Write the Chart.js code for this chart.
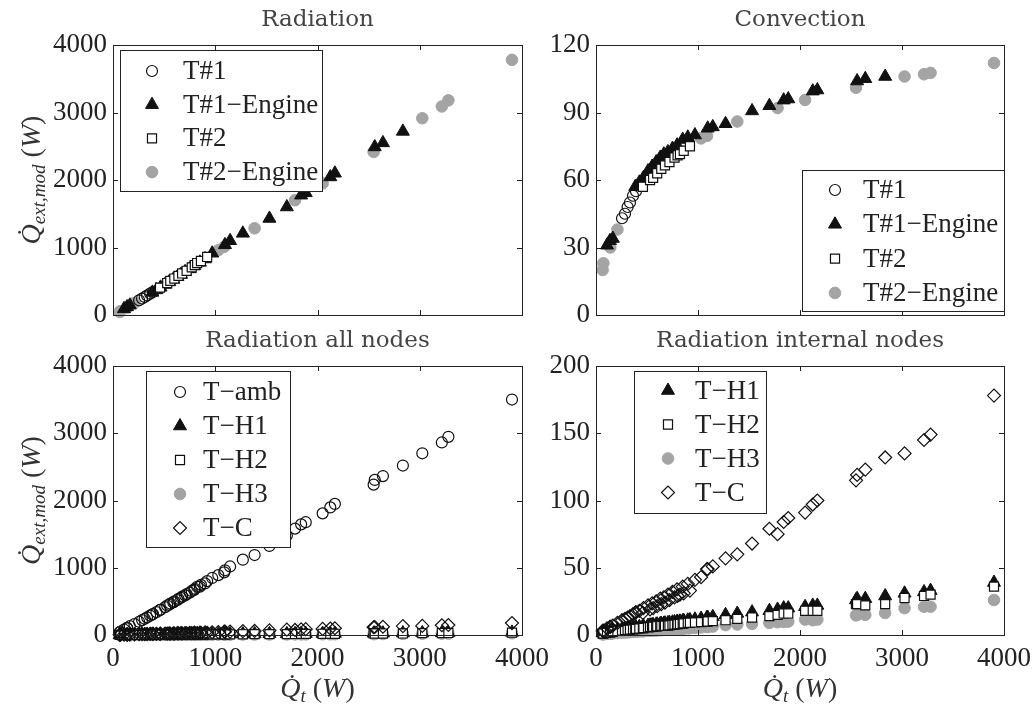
<!DOCTYPE html>
<html>
<head>
<meta charset="utf-8">
<script src="https://cdn.jsdelivr.net/npm/chart.js@4.4.1/dist/chart.umd.min.js"></script>
<style>
  body { margin: 0; background: #fff; }
  #wrap { position: relative; width: 1034px; height: 710px; overflow: hidden; background: #fff; }
  canvas { position: absolute; }
</style>
</head>
<body>
<div id="wrap">
  <canvas id="radChart" width="560" height="340" style="left:0;top:0"></canvas>
  <canvas id="convChart" width="504" height="340" style="left:530px;top:0"></canvas>
  <canvas id="allChart" width="560" height="389" style="left:0;top:321px"></canvas>
  <canvas id="intChart" width="504" height="389" style="left:530px;top:321px"></canvas>
</div>
<script>
// tick labels
const qtTicks = [0, 1000, 2000, 3000, 4000];
const radTicks = [0, 1000, 2000, 3000, 4000];
const convTicks = [0, 30, 60, 90, 120];
const intTicks = [0, 50, 100, 150, 200];

const panelTitles = ['Radiation', 'Convection', 'Radiation all nodes', 'Radiation internal nodes'];
const testNames = ['T#1', 'T#1\u2212Engine', 'T#2', 'T#2\u2212Engine'];
const nodeNames = ['T\u2212amb', 'T\u2212H1', 'T\u2212H2', 'T\u2212H3', 'T\u2212C'];

// test series (x = Qt, W)
const t1Qt   = [255, 284, 310, 333, 363, 392];
const t1Rad  = [218, 244, 266, 288, 316, 342];
const t1Conv = [43, 45, 48, 50, 53, 55];

const t1eQt   = [108, 137, 165, 385, 425, 465, 510, 550, 590, 630, 665, 705, 750, 795, 850, 900, 970, 1095, 1145, 1270, 1530, 1700, 1840, 1885, 2125, 2170, 2560, 2640, 2835];
const t1eRad  = [92, 120, 145, 335, 372, 410, 452, 490, 528, 566, 600, 640, 683, 728, 780, 830, 915, 1040, 1100, 1210, 1430, 1600, 1775, 1810, 2045, 2100, 2490, 2550, 2720];
const t1eConv = [31, 33, 34, 57, 59, 61, 64, 66, 68, 70, 71.5, 72.5, 74, 75.5, 78, 79, 80, 83, 83.6, 85, 90.7, 93, 95.5, 96, 99.5, 100, 104, 105, 106];

const t2Qt   = [460, 530, 560, 600, 640, 676, 720, 770, 800, 823, 860, 921];
const t2Rad  = [405, 474, 505, 540, 580, 615, 655, 705, 740, 770, 800, 860];
const t2Conv = [57, 60, 61, 63, 65, 66.5, 68, 70, 71, 71.5, 73, 75];

const t2eQt   = [65, 72, 140, 210, 1030, 1088, 1385, 1780, 2050, 2549, 3025, 3216, 3280, 3902];
const t2eRad  = [45, 58, 110, 180, 960, 1010, 1285, 1700, 1950, 2415, 2915, 3090, 3180, 3780];
const t2eConv = [20, 23, 30, 38, 78.5, 79.6, 86, 92, 95.6, 101, 106, 107, 107.6, 112];

// all runs, radiation per node
const allQt  = [65, 72, 108, 137, 140, 165, 210, 255, 284, 310, 333, 363, 385, 392, 425, 460, 465, 510, 530, 550, 560, 590, 600, 630, 640, 665, 676, 705, 720, 750, 770, 795, 800, 823, 850, 860, 900, 921, 970, 1030, 1088, 1095, 1145, 1270, 1385, 1530, 1700, 1780, 1840, 1885, 2050, 2125, 2170, 2549, 2560, 2640, 2835, 3025, 3216, 3280, 3902];
const ambRad = [39, 52, 82, 108, 98, 131, 163, 197, 222, 242, 263, 288, 306, 312, 340, 374, 375, 414, 439, 450, 468, 485, 500, 520, 538, 553, 571, 590, 608, 630, 655, 671, 688, 717, 720, 745, 767, 802, 848, 890, 932, 962, 1019, 1120, 1189, 1324, 1480, 1582, 1645, 1677, 1809, 1897, 1949, 2236, 2306, 2363, 2520, 2702, 2863, 2947, 3501];
const h1Rad  = [1.5, 1.6, 2.5, 3, 3, 3.5, 4, 4.5, 4.8, 5, 5.2, 5.5, 5.8, 5.9, 6.2, 6.6, 6.6, 7.1, 7.3, 7.5, 7.6, 7.9, 8, 8.3, 8.4, 8.6, 8.8, 9, 9.2, 9.5, 9.7, 10, 10, 10.2, 10.5, 10.6, 11, 11.2, 11.7, 12.3, 13, 13, 13.5, 15, 16, 17, 18, 19, 20, 20, 21, 22, 22, 26, 27, 27, 29, 31, 32, 33, 39];
const h2Rad  = [1, 1.1, 1.5, 2, 2, 2.3, 3, 3.3, 3.6, 3.8, 4, 4.2, 4.4, 4.5, 4.8, 5.1, 5.2, 5.6, 5.8, 6, 6.1, 6.4, 6.5, 6.7, 6.8, 6.9, 6.9, 7, 7.2, 7.5, 7.7, 8, 8, 8.2, 8.5, 8.6, 9, 9.1, 9.3, 9.6, 10, 10, 10.3, 11, 12, 13, 14, 15, 16, 16, 18, 18, 18, 23, 23, 22, 23, 27.5, 29, 30, 36];
const h3Rad  = [0.5, 0.5, 0.8, 1, 1, 1.2, 1.5, 1.8, 1.9, 2, 2.1, 2.3, 2.4, 2.5, 2.6, 2.8, 2.8, 3.1, 3.2, 3.3, 3.3, 3.5, 3.5, 3.7, 3.7, 3.8, 3.9, 4, 4.1, 4.2, 4.3, 4.5, 4.5, 4.6, 4.7, 4.8, 5, 5.1, 5.3, 5.6, 6, 6, 6.3, 7.4, 7.8, 8.2, 9, 9.5, 9.7, 10, 11.5, 11, 11.5, 14.6, 15, 15, 16.4, 20, 21, 21, 26];
const tcRad  = [3, 3.2, 5, 6, 6, 7, 9, 11, 12, 13, 14, 15.5, 16.5, 17, 18, 16.5, 20, 22, 19, 23.5, 20, 25, 21.5, 27, 23, 28, 24, 30, 26, 32, 28, 34, 29, 30, 36, 31, 38, 33, 41, 43, 49, 49, 51, 57, 60, 68, 79, 75, 84, 87, 91, 97, 100, 115, 119, 123, 132, 135, 145, 149, 178];

const SERIF = '"Times New Roman", "Liberation Serif", Tinos, serif';
const BLACK = '#111', GRAY = '#a4a4a4', NONE = 'rgba(255,255,255,0)';
const markers = {
  circle:   { pointStyle: 'circle',   radius: 5.5, bg: NONE,  border: BLACK, bw: 1.2 },
  triangle: { pointStyle: 'triangle', radius: 7.5, bg: BLACK, border: BLACK, bw: 1 },
  square:   { pointStyle: 'rect',     radius: 6.4, bg: '#fff', border: BLACK, bw: 1.2 },
  dot:      { pointStyle: 'circle',   radius: 5.8, bg: GRAY,  border: GRAY,  bw: 1 },
  diamond:  { pointStyle: 'rectRot',  radius: 6.5, bg: NONE,  border: BLACK, bw: 1.2 }
};

function series(label, xs, ys, m, order) {
  return {
    label: label, order: order, clip: false, mk: m,
    data: xs.map((x, i) => ({ x: x, y: ys[i] })),
    pointStyle: m.pointStyle, pointRadius: m.radius, pointHoverRadius: m.radius,
    pointBackgroundColor: m.bg, pointBorderColor: m.border, pointBorderWidth: m.bw,
    backgroundColor: m.bg, borderColor: m.border
  };
}

function drawMarker(ctx, m, x, y) {
  ctx.fillStyle = m.bg;
  ctx.strokeStyle = m.border;
  ctx.lineWidth = m.bw;
  Chart.helpers.drawPoint(ctx, { pointStyle: m.pointStyle, radius: m.radius, rotation: 0, borderWidth: m.bw }, x, y);
}

// box + inward tick marks on all four sides
const framePlugin = {
  id: 'frame',
  afterDatasetsDraw(chart, args, o) {
    const { ctx, chartArea: a, scales } = chart;
    ctx.save();
    ctx.strokeStyle = '#222';
    ctx.lineWidth = 1;
    ctx.strokeRect(Math.round(a.left) + 0.5, Math.round(a.top) + 0.5, Math.round(a.right - a.left), Math.round(a.bottom - a.top));
    ctx.beginPath();
    o.xTicks.forEach(v => {
      const p = Math.round(scales.x.getPixelForValue(v)) + 0.5;
      ctx.moveTo(p, a.bottom); ctx.lineTo(p, a.bottom - 5);
      ctx.moveTo(p, a.top); ctx.lineTo(p, a.top + 5);
    });
    o.yTicks.forEach(v => {
      const p = Math.round(scales.y.getPixelForValue(v)) + 0.5;
      ctx.moveTo(a.left, p); ctx.lineTo(a.left + 5, p);
      ctx.moveTo(a.right, p); ctx.lineTo(a.right - 5, p);
    });
    ctx.stroke();
    ctx.restore();
  }
};

// boxed legend inside the plot
const legendPlugin = {
  id: 'boxLegend',
  afterDraw(chart, args, o) {
    const { ctx, chartArea: a } = chart;
    const bx = Math.round(a.left + o.x), by = Math.round(a.top + o.y);
    ctx.save();
    ctx.fillStyle = '#fff';
    ctx.fillRect(bx, by, o.w, o.h);
    ctx.strokeStyle = '#222';
    ctx.lineWidth = 1;
    ctx.strokeRect(bx + 0.5, by + 0.5, o.w, o.h);
    chart.data.datasets.forEach((ds, i) => {
      const y = a.top + o.row0 + i * o.step;
      drawMarker(ctx, ds.mk, a.left + o.mx, y);
      ctx.font = '27px ' + SERIF;
      ctx.fillStyle = '#222';
      ctx.textAlign = 'left';
      ctx.textBaseline = 'middle';
      ctx.fillText(ds.label, a.left + o.tx, y + 1);
    });
    ctx.restore();
  }
};

function drawQ(ctx, sub) {
  const parts = [
    { t: 'Q\u0307', f: 'italic 28px ' + SERIF, dy: 0 },
    { t: sub, f: 'italic 19px ' + SERIF, dy: 7 },
    { t: ' (', f: '28px ' + SERIF, dy: 0 },
    { t: 'W', f: 'italic 28px ' + SERIF, dy: 0 },
    { t: ')', f: '28px ' + SERIF, dy: 0 }
  ];
  let total = 0;
  parts.forEach(p => { ctx.font = p.f; p.w = ctx.measureText(p.t).width; total += p.w; });
  let x = -total / 2;
  ctx.fillStyle = '#333';
  ctx.textAlign = 'left';
  ctx.textBaseline = 'middle';
  parts.forEach(p => { ctx.font = p.f; ctx.fillText(p.t, x, p.dy); x += p.w; });
}

const axisLabelPlugin = {
  id: 'axisLabels',
  afterDraw(chart, args, o) {
    const { ctx, chartArea: a } = chart;
    if (o.y) {
      ctx.save();
      ctx.translate(o.y.pos, (a.top + a.bottom) / 2);
      ctx.rotate(-Math.PI / 2);
      drawQ(ctx, o.y.sub);
      ctx.restore();
    }
    if (o.x) {
      ctx.save();
      ctx.translate((a.left + a.right) / 2, a.bottom + o.x.offset);
      drawQ(ctx, o.x.sub);
      ctx.restore();
    }
  }
};

const tickFont = { family: SERIF, size: 27 };

function panel(id, cfg) {
  return new Chart(document.getElementById(id), {
    type: 'scatter',
    data: { datasets: cfg.datasets },
    options: {
      responsive: false,
      animation: false,
      events: [],
      layout: { padding: { left: 0, right: cfg.padRight, top: 0, bottom: 0 } },
      plugins: {
        legend: { display: false },
        tooltip: { enabled: false },
        title: {
          display: true, text: cfg.title, fullSize: false, color: '#444',
          font: { family: 'DejaVu Serif', size: 23, weight: 'normal' },
          padding: { top: 6, bottom: 11.4 }
        },
        frame: { xTicks: qtTicks, yTicks: cfg.yTicks },
        boxLegend: cfg.legend,
        axisLabels: { x: cfg.xLabel, y: cfg.yLabel }
      },
      scales: {
        x: {
          type: 'linear', min: 0, max: 4000,
          afterBuildTicks: s => { s.ticks = qtTicks.map(v => ({ value: v })); },
          afterFit: s => { s.height = cfg.xHeight; s.paddingLeft = 0; s.paddingRight = 0; },
          ticks: { display: cfg.showX, font: tickFont, color: '#222', padding: 8, maxRotation: 0, autoSkip: false, callback: v => String(v) },
          grid: { display: false, drawTicks: false },
          border: { display: false }
        },
        y: {
          type: 'linear', min: cfg.yTicks[0], max: cfg.yTicks[cfg.yTicks.length - 1],
          afterBuildTicks: s => { s.ticks = cfg.yTicks.map(v => ({ value: v })); },
          afterFit: s => { s.width = cfg.yWidth; s.paddingTop = 0; s.paddingBottom = 0; },
          ticks: { font: tickFont, color: '#222', padding: 6, autoSkip: false, callback: v => String(v) },
          grid: { display: false, drawTicks: false },
          border: { display: false }
        }
      }
    },
    plugins: [framePlugin, legendPlugin, axisLabelPlugin]
  });
}

panel('radChart', {
  title: panelTitles[0], yTicks: radTicks, showX: false, xHeight: 25, yWidth: 113, padRight: 38,
  yLabel: { pos: 33, sub: 'ext,mod' },
  legend: { x: 7, y: 5, w: 202, h: 141, mx: 39, tx: 70, row0: 26, step: 33.7 },
  datasets: [
    series(testNames[0], t1Qt, t1Rad, markers.circle, 2),
    series(testNames[1], t1eQt, t1eRad, markers.triangle, 3),
    series(testNames[2], t2Qt, t2Rad, markers.square, 1),
    series(testNames[3], t2eQt, t2eRad, markers.dot, 4)
  ]
});

panel('convChart', {
  title: panelTitles[1], yTicks: convTicks, showX: false, xHeight: 25, yWidth: 66, padRight: 30,
  legend: { x: 206, y: 125, w: 202, h: 141, mx: 239, tx: 267, row0: 145, step: 34.3 },
  datasets: [
    series(testNames[0], t1Qt, t1Conv, markers.circle, 2),
    series(testNames[1], t1eQt, t1eConv, markers.triangle, 3),
    series(testNames[2], t2Qt, t2Conv, markers.square, 1),
    series(testNames[3], t2eQt, t2eConv, markers.dot, 4)
  ]
});

panel('allChart', {
  title: panelTitles[2], yTicks: radTicks, showX: true, xHeight: 75, yWidth: 113, padRight: 38,
  yLabel: { pos: 33, sub: 'ext,mod' },
  xLabel: { offset: 55, sub: 't' },
  legend: { x: 33, y: 5, w: 144, h: 176, mx: 67, tx: 90, row0: 26, step: 34 },
  datasets: [
    series(nodeNames[0], allQt, ambRad, markers.circle, 2),
    series(nodeNames[1], allQt, h1Rad, markers.triangle, 4),
    series(nodeNames[2], allQt, h2Rad, markers.square, 3),
    series(nodeNames[3], allQt, h3Rad, markers.dot, 5),
    series(nodeNames[4], allQt, tcRad, markers.diamond, 1)
  ]
});

panel('intChart', {
  title: panelTitles[3], yTicks: intTicks, showX: true, xHeight: 75, yWidth: 66, padRight: 30,
  xLabel: { offset: 55, sub: 't' },
  legend: { x: 38, y: 5, w: 132, h: 142, mx: 72, tx: 99, row0: 24.5, step: 34 },
  datasets: [
    series(nodeNames[1], allQt, h1Rad, markers.triangle, 3),
    series(nodeNames[2], allQt, h2Rad, markers.square, 2),
    series(nodeNames[3], allQt, h3Rad, markers.dot, 4),
    series(nodeNames[4], allQt, tcRad, markers.diamond, 1)
  ]
});
</script>
</body>
</html>
